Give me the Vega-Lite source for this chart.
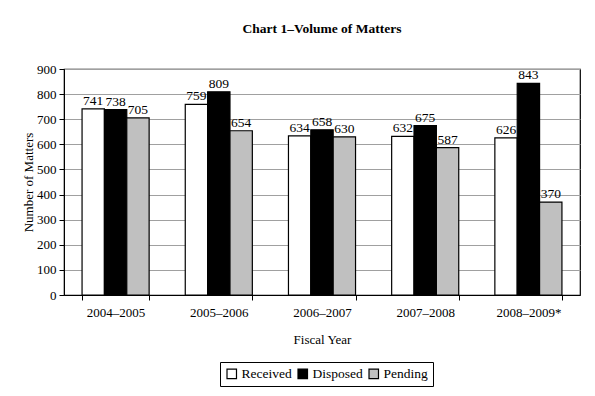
{
  "$schema": "https://vega.github.io/schema/vega-lite/v6.json",
  "autosize": "none",
  "width": 516,
  "height": 226,
  "padding": {"left": 64, "top": 69, "right": 15, "bottom": 101},
  "background": "white",
  "title": {"text": "Chart 1–Volume of Matters", "font": "Times New Roman", "fontSize": 13.5, "fontWeight": "bold", "color": "black", "offset": 28, "anchor": "middle"},
  "data": {"values": [
    {"year": "2004–2005", "type": "Received", "v": 741},
    {"year": "2004–2005", "type": "Disposed", "v": 738},
    {"year": "2004–2005", "type": "Pending", "v": 705},
    {"year": "2005–2006", "type": "Received", "v": 759},
    {"year": "2005–2006", "type": "Disposed", "v": 809},
    {"year": "2005–2006", "type": "Pending", "v": 654},
    {"year": "2006–2007", "type": "Received", "v": 634},
    {"year": "2006–2007", "type": "Disposed", "v": 658},
    {"year": "2006–2007", "type": "Pending", "v": 630},
    {"year": "2007–2008", "type": "Received", "v": 632},
    {"year": "2007–2008", "type": "Disposed", "v": 675},
    {"year": "2007–2008", "type": "Pending", "v": 587},
    {"year": "2008–2009*", "type": "Received", "v": 626},
    {"year": "2008–2009*", "type": "Disposed", "v": 843},
    {"year": "2008–2009*", "type": "Pending", "v": 370}
  ]},
  "encoding": {
    "x": {"field": "year", "type": "nominal", "sort": null,
      "scale": {"paddingInner": 0.35, "paddingOuter": 0.175},
      "axis": {"title": "Fiscal Year", "labelAngle": 0, "tickBand": "extent", "domainColor": "black", "tickColor": "black", "tickSize": 5, "labelPadding": 6, "titlePadding": 14, "labelFont": "Times New Roman", "titleFont": "Times New Roman", "labelFontSize": 13, "titleFontSize": 13}},
    "xOffset": {"field": "type", "type": "nominal", "sort": ["Received", "Disposed", "Pending"], "scale": {"paddingInner": 0, "paddingOuter": 0}},
    "y": {"field": "v", "type": "quantitative",
      "scale": {"domain": [0, 900]},
      "axis": {"title": "Number of Matters", "values": [0,100,200,300,400,500,600,700,800,900], "labelOverlap": false, "gridColor": "#a0a0a0", "domainColor": "black", "tickColor": "black", "tickSize": 5, "labelPadding": 3, "titlePadding": 1, "labelFont": "Times New Roman", "titleFont": "Times New Roman", "labelFontSize": 13, "titleFontSize": 13}}
  },
  "layer": [
    {"mark": {"type": "bar", "stroke": "black", "strokeWidth": 1.2},
      "encoding": {
        "fill": {"field": "type", "type": "nominal",
          "scale": {"domain": ["Received", "Disposed", "Pending"], "range": ["#ffffff", "#000000", "#c0c0c0"]},
          "legend": {"title": null, "orient": "none", "legendX": 156, "legendY": 293, "direction": "horizontal", "symbolType": "square", "symbolStrokeColor": "black", "symbolStrokeWidth": 1.2, "symbolSize": 90, "strokeColor": "black", "padding": 5, "columnPadding": 3, "labelOffset": 3, "labelFontSize": 13.5, "labelFont": "Times New Roman"}
        }
      }
    },
    {"mark": {"type": "text", "dy": -8, "font": "Times New Roman", "fontSize": 13.5, "color": "black"},
      "encoding": {"text": {"field": "v", "type": "quantitative"}}
    }
  ],
  "config": {
    "view": {"stroke": "black", "strokeWidth": 1.2},
    "font": "Times New Roman",
    "axis": {"titleFontWeight": "normal", "labelColor": "black", "titleColor": "black"},
    "axisX": {"grid": false},
    "legend": {"labelColor": "black", "symbolOpacity": 1}
  }
}
